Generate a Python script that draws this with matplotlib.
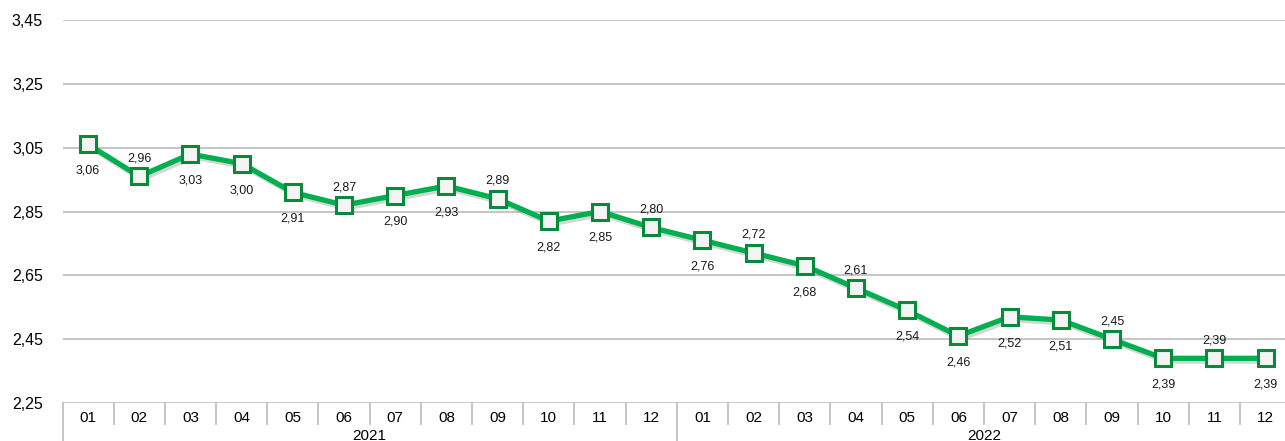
import numpy as np
import matplotlib.pyplot as plt
import matplotlib.patheffects as pe

plt.rcParams['font.family'] = ['Liberation Sans', 'DejaVu Sans']

# данные
months = ['01', '02', '03', '04', '05', '06', '07', '08', '09', '10', '11', '12'] * 2
years = ['2021', '2022']
values = [3.06, 2.96, 3.03, 3.00, 2.91, 2.87, 2.90, 2.93, 2.89, 2.82, 2.85, 2.80,
          2.76, 2.72, 2.68, 2.61, 2.54, 2.46, 2.52, 2.51, 2.45, 2.39, 2.39, 2.39]
label_above = [False, True, False, False, False, True, False, False, True, False, False, True,
               False, True, False, True, False, False, False, False, True, False, True, False]
yticks = [2.25, 2.45, 2.65, 2.85, 3.05, 3.25, 3.45]

green = '#00b050'
dark_green = '#078a3c'
grid_c = '#c0c0c0'

fig = plt.figure(figsize=(12.85, 4.41), dpi=100)
ax = fig.add_axes([62.5 / 1285, 1 - 403 / 441, 1 - 62.5 / 1285, (403 - 20) / 441])

x = np.arange(len(values))
ax.set_xlim(-0.5, 23.38)
ax.set_ylim(2.25, 3.45)

for yv in yticks:
    ax.axhline(yv, color=grid_c, lw=1.3, zorder=1)

shadow = [pe.SimpleLineShadow(offset=(1.5, -2), shadow_color='#888888', alpha=0.35), pe.Normal()]
ax.plot(x, values, color=green, lw=3.8, zorder=3, solid_joinstyle='miter',
        path_effects=shadow)
ax.plot(x, values, ls='none', marker='s', ms=11, mfc='#f4f4f4', mec=dark_green,
        mew=2.2, zorder=4)

for xi, v, up in zip(x, values, label_above):
    ax.annotate(f'{v:.2f}'.replace('.', ','), (xi, v),
                xytext=(0, 13 if up else -19), textcoords='offset points',
                ha='center', va='center', fontsize=9, color='#1a1a1a', zorder=5)

ax.set_yticks(yticks)
ax.set_yticklabels([f'{t:.2f}'.replace('.', ',') for t in yticks], fontsize=11.5)
ax.tick_params(axis='y', length=0, pad=14)
ax.set_xticks([])
for s in ax.spines.values():
    s.set_visible(False)

# подписи месяцев и разделители под осью
for i, m in enumerate(months):
    ax.annotate(m, (i, 2.25), xytext=(0, -11), textcoords='offset points',
                ha='center', va='center', fontsize=11, annotation_clip=False)
px = 1.2 / 383  # единиц данных на пиксель
for i in range(len(months)):
    b = i - 0.5
    depth = 40 if i % 12 == 0 else 21
    ax.add_line(plt.Line2D([b, b], [2.25, 2.25 - depth * px], color=grid_c, lw=1.3,
                           clip_on=False, zorder=1))
for k, yr in enumerate(years):
    ax.annotate(yr, (k * 12 + 5.5, 2.25), xytext=(0, -23.5), textcoords='offset points',
                ha='center', va='center', fontsize=11, annotation_clip=False)

fig.savefig('out.png', dpi=100)
